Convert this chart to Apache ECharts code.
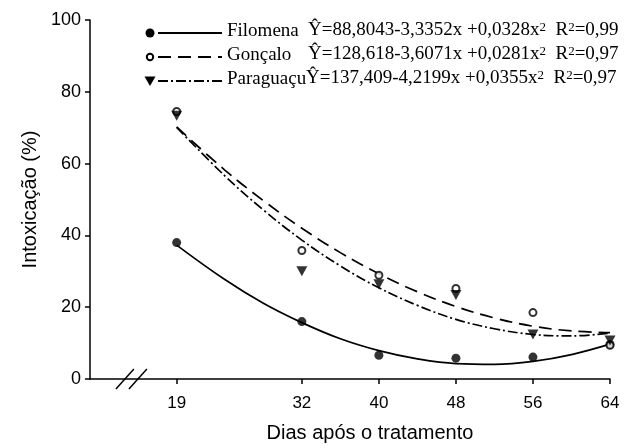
<!DOCTYPE html>
<html>
<head>
<meta charset="utf-8">
<script src="https://cdn.jsdelivr.net/npm/echarts@6/dist/echarts.min.js"></script>
<style>
  html, body { margin: 0; padding: 0; background: #fff; }
  #chart { width: 625px; height: 448px; }
</style>
</head>
<body>
<div id="chart"></div>
<script>
// dias de avaliação e pontos observados
const xDays = [19, 32, 40, 48, 56, 64];
const filomena = [38.0, 16.0, 6.6, 5.8, 6.1, 9.6];
const goncalo = [74.5, 35.8, 28.9, 25.2, 18.5, 9.4];
const paraguacu = [73.3, 30.0, 26.4, 23.4, 12.4, 10.7];

// curvas ajustadas
const fitX = [19, 24, 28, 32, 36, 40, 44, 48, 52, 56, 60, 64];
const fitFilomena = [37.3, 27.7, 21.1, 15.7, 11.2, 7.9, 5.6, 4.3, 4.1, 4.9, 6.8, 9.7];
const fitGoncalo = [70.2, 58.2, 49.7, 42.0, 35.2, 29.3, 24.3, 20.2, 17.0, 14.7, 13.4, 12.9];
const fitParaguacu = [70.1, 56.6, 47.1, 38.7, 31.5, 25.4, 20.5, 16.6, 14.0, 12.4, 12.0, 12.8];

const legendRows = [
  { name: 'Filomena', eq: 'Ŷ=88,8043-3,3352x +0,0328x{s|2}  R{s|2}=0,99', dash: null, symbol: 'dot' },
  { name: 'Gonçalo', eq: 'Ŷ=128,618-3,6071x +0,0281x{s|2}  R{s|2}=0,97', dash: [13, 7], symbol: 'open' },
  { name: 'Paraguaçu', eq: 'Ŷ=137,409-4,2199x +0,0355x{s|2}  R{s|2}=0,97', dash: [10, 3, 2, 3], symbol: 'tri' }
];

function pairs(xs, ys) {
  return xs.map(function (x, i) { return [x, ys[i]]; });
}

const sans = 'Liberation Sans, Arial, sans-serif';
const serif = 'Liberation Serif, Times New Roman, serif';

let chart = echarts.init(document.getElementById('chart'));

let option = {
  animation: false,
  backgroundColor: '#fff',
  grid: { left: 90, right: 15, top: 20, bottom: 65 },
  xAxis: {
    type: 'value',
    min: 10,
    max: 64,
    name: 'Dias após o tratamento',
    nameLocation: 'middle',
    nameGap: 44,
    nameTextStyle: { fontFamily: sans, fontSize: 20, color: '#000', padding: [0, 0, 0, 40] },
    axisLine: { lineStyle: { color: '#000', width: 1.5 } },
    axisTick: { customValues: xDays, length: 5, lineStyle: { color: '#000', width: 1.5 } },
    axisLabel: { customValues: xDays, margin: 16, fontFamily: sans, fontSize: 17, color: '#000' },
    splitLine: { show: false }
  },
  yAxis: {
    type: 'value',
    min: 0,
    max: 100,
    interval: 20,
    name: 'Intoxicação (%)',
    nameLocation: 'middle',
    nameGap: 50,
    nameRotate: 90,
    nameTextStyle: { fontFamily: sans, fontSize: 20, color: '#000' },
    axisLine: { show: true, lineStyle: { color: '#000', width: 1.5 } },
    axisTick: { show: true, length: 5, lineStyle: { color: '#000', width: 1.5 } },
    axisLabel: { margin: 9, fontFamily: sans, fontSize: 18, color: '#000' },
    splitLine: { show: false }
  },
  series: [
    {
      name: 'Filomena ajuste', type: 'line', smooth: 0.4, symbol: 'none',
      lineStyle: { color: '#000', width: 1.7 },
      data: pairs(fitX, fitFilomena), z: 2
    },
    {
      name: 'Gonçalo ajuste', type: 'line', smooth: 0.4, symbol: 'none',
      lineStyle: { color: '#000', width: 1.7, type: [13, 7] },
      data: pairs(fitX, fitGoncalo), z: 2
    },
    {
      name: 'Paraguaçu ajuste', type: 'line', smooth: 0.4, symbol: 'none',
      lineStyle: { color: '#000', width: 1.7, type: [10, 3, 2, 3] },
      data: pairs(fitX, fitParaguacu), z: 2
    },
    {
      name: 'Filomena', type: 'scatter', symbol: 'circle', symbolSize: 9,
      itemStyle: { color: '#000' },
      data: pairs(xDays, filomena), z: 5
    },
    {
      name: 'Gonçalo', type: 'scatter', symbol: 'circle', symbolSize: 7,
      itemStyle: { color: '#fff', borderColor: '#000', borderWidth: 2 },
      data: pairs(xDays, goncalo), z: 5
    },
    {
      name: 'Paraguaçu', type: 'scatter', symbol: 'triangle', symbolRotate: 180, symbolSize: [11, 10],
      itemStyle: { color: '#000' },
      data: pairs(xDays, paraguacu), z: 6
    }
  ]
};

chart.setOption(option);

// legenda e quebra do eixo
let graphics = [];
legendRows.forEach(function (row, i) {
  let y = 33 + i * 24;
  let mark;
  if (row.symbol === 'dot') {
    mark = { type: 'circle', shape: { cx: 150, cy: y, r: 4.5 }, style: { fill: '#000' } };
  } else if (row.symbol === 'open') {
    mark = { type: 'circle', shape: { cx: 150, cy: y, r: 3.2 }, style: { fill: '#fff', stroke: '#000', lineWidth: 2 } };
  } else {
    mark = { type: 'polygon', shape: { points: [[144.5, y - 4.5], [155.5, y - 4.5], [150, y + 5]] }, style: { fill: '#000' } };
  }
  graphics.push(mark);
  graphics.push({
    type: 'line',
    shape: { x1: 158, y1: y, x2: 222, y2: y },
    style: { stroke: '#000', lineWidth: 2, lineDash: row.dash || null }
  });
  graphics.push({
    type: 'text', left: 227, top: y - 11,
    style: { text: row.name, font: '19px ' + serif, fill: '#000' }
  });
  graphics.push({
    type: 'text', left: row.name === 'Paraguaçu' ? 306 : 308, top: y - 12,
    style: {
      text: row.eq, font: '19px ' + serif, fill: '#000',
      rich: { s: { fontSize: 13, fontFamily: serif, verticalAlign: 'top', fill: '#000' } }
    }
  });
});

let axisY = chart.convertToPixel({ gridIndex: 0 }, [10, 0])[1];
let bx = chart.convertToPixel({ gridIndex: 0 }, [14.3, 0])[0];
[-6.5, 6.5].forEach(function (dx) {
  graphics.push({
    type: 'line',
    shape: { x1: bx + dx - 9, y1: axisY + 10, x2: bx + dx + 9, y2: axisY - 10 },
    style: { stroke: '#000', lineWidth: 1.5 }
  });
});

chart.setOption({ graphic: graphics });
</script>
</body>
</html>
